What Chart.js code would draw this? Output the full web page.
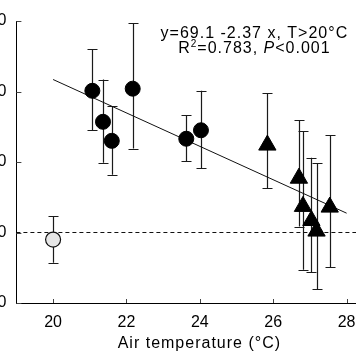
<!DOCTYPE html>
<html><head><meta charset="utf-8">
<script src="https://cdn.jsdelivr.net/npm/chart.js@4/dist/chart.umd.min.js"></script>
<style>
html,body{margin:0;padding:0;overflow:hidden;background:#fff;width:356px;height:364px}
#wrap{position:absolute;left:-40px;top:0;width:460px;height:364px}
</style></head><body>
<div id="wrap"><canvas id="c" width="460" height="364"></canvas></div>
<script>
// Filled circles (T > 20 °C, group 1)
const circleTemp = [21.07, 21.36, 21.60, 22.17, 23.63, 24.03];
const circleVal  = [20.1, 15.7, 13.0, 20.4, 13.3, 14.5];
const circleHi   = [26.0, 21.7, 17.9, 29.7, 16.6, 20.1];
const circleLo   = [14.5, 9.9, 8.2, 11.9, 10.1, 9.1];
// Triangles
const triTemp = [25.84, 26.70, 26.81, 27.04, 27.18, 27.54];
const triVal  = [12.4, 7.7, 3.7, 1.7, 0.2, 3.6];
const triHi   = [19.8, 15.9, 14.35, 10.6, 9.8, 13.8];
const triLo   = [6.3, 0.85, -5.3, -5.6, -8.0, -4.9];
// Open circle (20 °C)
const openTemp = [20.0];
const openVal  = [-1.0];
const openHi   = [2.3];
const openLo   = [-4.3];
// Regression line endpoints (y = 69.1 - 2.37x)
const fitTemp = [20, 28];
const fitVal  = [21.7, 2.74];
// Reference line at zero
const zeroTemp = [19, 30];
const zeroVal  = [0, 0];
// Ticks
const xTicks = [20, 22, 24, 26, 28];
const yTicks = [-10, 0, 10, 20, 30];
const xTitle = 'Air temperature (\u00B0C)';

const FONT = "'Liberation Sans', Arial, Helvetica, sans-serif";
const pts = (xs, ys) => xs.map((x, i) => ({x, y: ys[i]}));

const errGroups = [
  {xs: circleTemp, hi: circleHi, lo: circleLo},
  {xs: triTemp, hi: triHi, lo: triLo},
  {xs: openTemp, hi: openHi, lo: openLo}
];

const extras = {
  id: 'extras',
  beforeDatasetsDraw(chart) {
    const ctx = chart.ctx, xs = chart.scales.x, ys = chart.scales.y;
    ctx.save();
    ctx.strokeStyle = '#1a1a1a';
    ctx.lineWidth = 1.2;
    errGroups.forEach(g => {
      g.xs.forEach((t, i) => {
        const px = Math.round(xs.getPixelForValue(t)) + 0.5;
        const top = ys.getPixelForValue(g.hi[i]);
        const bot = ys.getPixelForValue(g.lo[i]);
        ctx.beginPath();
        ctx.moveTo(px, top); ctx.lineTo(px, bot);
        ctx.moveTo(px - 5, Math.round(top) + 0.5); ctx.lineTo(px + 5, Math.round(top) + 0.5);
        ctx.moveTo(px - 5, Math.round(bot) + 0.5); ctx.lineTo(px + 5, Math.round(bot) + 0.5);
        ctx.stroke();
      });
    });
    ctx.restore();
  },
  afterDraw(chart) {
    const ctx = chart.ctx, xs = chart.scales.x, ys = chart.scales.y, a = chart.chartArea;
    ctx.save();
    ctx.strokeStyle = '#444';
    ctx.lineWidth = 1;
    ctx.beginPath();
    yTicks.forEach(v => {
      const py = Math.round(ys.getPixelForValue(v)) + 0.5;
      ctx.moveTo(a.left, py); ctx.lineTo(a.left + 5, py);
    });
    xTicks.forEach(v => {
      const px = Math.round(xs.getPixelForValue(v)) + 0.5;
      ctx.moveTo(px, a.bottom); ctx.lineTo(px, a.bottom - 4);
    });
    ctx.stroke();
    ctx.fillStyle = '#000';
    ctx.textAlign = 'left';
    ctx.textBaseline = 'alphabetic';
    const drawRich = (parts, cx, cy) => {
      let total = 0;
      parts.forEach(p => {
        ctx.font = p.f; ctx.letterSpacing = (p.ls || 0) + 'px';
        p.w = ctx.measureText(p.t).width; total += p.w;
      });
      let x = cx - total / 2;
      parts.forEach(p => {
        ctx.font = p.f; ctx.letterSpacing = (p.ls || 0) + 'px';
        ctx.fillText(p.t, x, cy + (p.dy || 0)); x += p.w;
      });
    };
    const f = '16px ' + FONT;
    // x-axis title (centre at 20.0 + ~3.4 of the scale width)
    drawRich([{t: xTitle, f, ls: 1}], xs.getPixelForValue(24) - 0.5, a.bottom + 45);
    // annotation
    const cx = a.left + 238;
    drawRich([{t: 'y=69.1 -2.37 x, T>20\u00B0C', f, ls: 1}], cx, a.top + 17);
    drawRich([
      {t: 'R', f, ls: 1},
      {t: '2', f: '10px ' + FONT, dy: -6, ls: 1},
      {t: '=0.783, ', f, ls: 1},
      {t: 'P', f: 'italic 16px ' + FONT, ls: 1},
      {t: '<0.001', f, ls: 1}
    ], cx, a.top + 32);
    ctx.restore();
  }
};

new Chart(document.getElementById('c'), {
  type: 'scatter',
  data: {
    datasets: [
      {data: pts(circleTemp, circleVal), pointStyle: 'circle', pointRadius: 7.5, pointHoverRadius: 7.5,
       backgroundColor: '#000', borderColor: '#000', borderWidth: 1, order: 0},
      {data: pts(triTemp, triVal), pointStyle: 'triangle', pointRadius: 10, pointHoverRadius: 10,
       backgroundColor: '#000', borderColor: '#000', borderWidth: 1, order: 0},
      {data: pts(openTemp, openVal), pointStyle: 'circle', pointRadius: 7.5, pointHoverRadius: 7.5,
       backgroundColor: '#e6e6e6', borderColor: '#111', borderWidth: 1.2, order: 0},
      {type: 'line', data: pts(fitTemp, fitVal), showLine: true, pointRadius: 0, borderColor: '#111',
       borderWidth: 1, fill: false, order: 1},
      {type: 'line', data: pts(zeroTemp, zeroVal), showLine: true, pointRadius: 0, borderColor: '#111',
       borderWidth: 1, borderDash: [4, 3], fill: false, order: 2}
    ]
  },
  options: {
    responsive: false,
    animation: false,
    devicePixelRatio: 1,
    layout: {autoPadding: false, padding: {left: 0, right: 0, top: 21, bottom: 0}},
    plugins: {legend: {display: false}, tooltip: {enabled: false}},
    scales: {
      x: {
        type: 'linear', min: 19, max: 30,
        afterBuildTicks: s => { s.ticks = xTicks.map(v => ({value: v})); },
        afterFit: s => { s.height = 61; },
        grid: {display: false, drawTicks: false},
        border: {display: true, color: '#000', width: 1},
        ticks: {font: {family: FONT, size: 16}, color: '#000', padding: 10, maxRotation: 0},
        title: {display: false}
      },
      y: {
        min: -10, max: 30,
        afterBuildTicks: s => { s.ticks = yTicks.map(v => ({value: v})); },
        afterFit: s => { s.width = 56.4; },
        grid: {display: false, drawTicks: false},
        border: {display: true, color: '#000', width: 1},
        ticks: {font: {family: FONT, size: 16}, color: '#000', padding: 10}
      }
    }
  },
  plugins: [extras]
});
</script>
</body></html>
